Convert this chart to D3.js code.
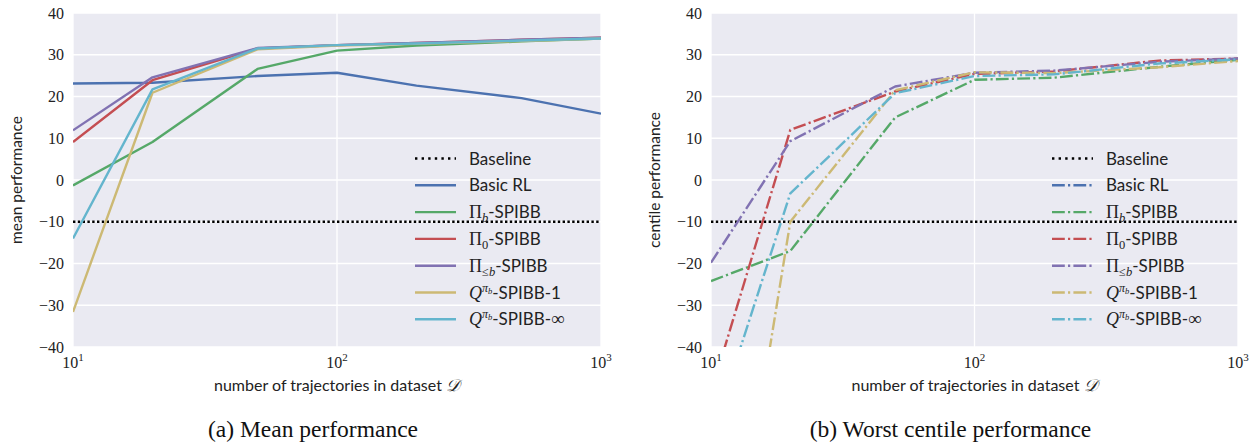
<!DOCTYPE html>
<html><head><meta charset="utf-8">
<script src="https://cdn.jsdelivr.net/npm/d3@7"></script>
<style>
body{margin:0;background:#fff;}
svg{display:block;}
</style></head>
<body>
<svg id="chart" width="1254" height="444"></svg>
<script>
// ---- data ----
const xs = [10, 20, 50, 100, 200, 500, 1000];
const baselineValue = -10;
const seriesNames = ["Basic RL", "Pib", "Pi0", "Pileb", "Q1", "Qinf"];
const meanBasicRL = [23.1, 23.3, 24.9, 25.7, 22.6, 19.6, 15.9];
const meanPib     = [-1.3, 9.1, 26.6, 31.0, 32.2, 33.2, 33.9];
const meanPi0     = [9.1, 23.9, 31.5, 32.3, 32.8, 33.6, 34.1];
const meanPileb   = [11.9, 24.6, 31.6, 32.3, 32.8, 33.6, 34.1];
const meanQ1      = [-31.6, 20.9, 31.3, 32.2, 32.6, 33.3, 33.9];
const meanQinf    = [-14.0, 21.7, 31.5, 32.3, 32.7, 33.4, 33.9];
const centBasicRL = [-90, -85, -80, -75, -72, -70, -72];
const centPib     = [-24.2, -17.0, 15.0, 24.0, 24.5, 27.1, 28.8];
const centPi0     = [-51, 12.0, 21.2, 25.4, 26.0, 28.6, 29.1];
const centPileb   = [-19.8, 9.3, 22.4, 25.7, 26.2, 28.3, 29.1];
const centQ1      = [-127, -10.0, 21.5, 25.8, 25.6, 27.0, 28.5];
const centQinf    = [-62, -3.2, 20.8, 24.9, 25.3, 27.9, 28.9];
const yTicks = [-40, -30, -20, -10, 0, 10, 20, 30, 40];
const xTicks = [10, 100, 1000];
const xTickExp = ["1", "2", "3"];
const colors = ["#4C72B0", "#55A868", "#C44E52", "#8172B2", "#CCB974", "#64B5CD"];

const svg = d3.select("#chart");
const H = {top: 13, bottom: 347};
const sans = "Lato, Open Sans, sans-serif";
const serif = "Liberation Serif, DejaVu Serif, serif";

function legendLabel(sel, i) {
  if (i === 0) { sel.append("tspan").text("Basic RL"); return; }
  if (i <= 3) {
    sel.append("tspan").attr("font-family", serif).attr("font-size", 18).text("Π");
    const t = sel.append("tspan").attr("font-family", serif).attr("font-size", 12.5).attr("dy", 4);
    if (i === 2) t.text("0");
    else if (i === 1) t.attr("font-style", "italic").text("b");
    else { t.text("≤"); sel.append("tspan").attr("font-family", serif).attr("font-size", 12.5).attr("font-style","italic").text("b"); }
    sel.append("tspan").attr("dy", -4).text("-SPIBB");
    return;
  }
  sel.append("tspan").attr("font-family", serif).attr("font-style", "italic").attr("font-size", 18).text("Q");
  sel.append("tspan").attr("font-family", serif).attr("font-style", "italic").attr("font-size", 12).attr("dy", -7).text("π");
  sel.append("tspan").attr("font-family", serif).attr("font-style", "italic").attr("font-size", 8.5).attr("dy", 2).text("b");
  if (i === 4) sel.append("tspan").attr("dy", 5).text("-SPIBB-1");
  else {
    sel.append("tspan").attr("dy", 5).text("-SPIBB-");
    sel.append("tspan").attr("font-family", serif).attr("font-size", 19).text("∞");
  }
}

function panel(id, x0, x1, ylabel, caption, data, dash) {
  const x = d3.scaleLog().domain([10, 1000]).range([x0, x1]);
  const y = d3.scaleLinear().domain([-40, 40]).range([H.bottom, H.top]);
  const g = svg.append("g");
  g.append("defs").append("clipPath").attr("id", "clip" + id)
    .append("rect").attr("x", x0).attr("y", H.top).attr("width", x1 - x0).attr("height", H.bottom - H.top);
  g.append("rect").attr("x", x0).attr("y", H.top).attr("width", x1 - x0).attr("height", H.bottom - H.top).attr("fill", "#EAEAF2");
  // grid
  g.append("g").selectAll("line").data(yTicks).join("line")
    .attr("x1", x0).attr("x2", x1).attr("y1", d => y(d)).attr("y2", d => y(d))
    .attr("stroke", "#fff").attr("stroke-width", 1.3);
  g.append("g").selectAll("line").data(xTicks).join("line")
    .attr("y1", H.top).attr("y2", H.bottom).attr("x1", d => x(d)).attr("x2", d => x(d))
    .attr("stroke", "#fff").attr("stroke-width", 1.3);
  // y tick labels
  g.append("g").selectAll("text").data(yTicks).join("text")
    .attr("x", x0 - 9).attr("y", d => y(d)).attr("dy", "0.35em").attr("text-anchor", "end")
    .attr("font-family", serif).attr("font-size", 16).attr("fill", "#222")
    .text(d => d < 0 ? "−" + Math.abs(d) : d);
  // x tick labels
  const xt = g.append("g").selectAll("text").data(xTicks).join("text")
    .attr("x", d => x(d)).attr("y", 368).attr("text-anchor", "middle")
    .attr("font-family", serif).attr("font-size", 16).attr("fill", "#222");
  xt.append("tspan").text("10");
  xt.append("tspan").attr("font-size", 11).attr("dy", -7).text((d, i) => xTickExp[i]);
  // axis labels
  const xl = g.append("text").attr("x", (x0 + x1) / 2).attr("y", 391).attr("text-anchor", "middle")
    .attr("font-family", sans).attr("font-size", 16).attr("fill", "#222");
  xl.append("tspan").text("number of trajectories in dataset ");
  xl.append("tspan").attr("font-family", serif).attr("font-style", "italic").attr("font-size", 17).text("𝒟");
  g.append("text").attr("transform", `translate(${x0 - 51},${(H.top + H.bottom) / 2}) rotate(-90)`)
    .attr("text-anchor", "middle").attr("font-family", sans).attr("font-size", 15.5).attr("fill", "#222")
    .text(ylabel);
  g.append("text").attr("x", (x0 + x1) / 2 - 24).attr("y", 437).attr("text-anchor", "middle")
    .attr("font-family", "Liberation Serif, Times New Roman, serif").attr("font-size", 23.5).attr("fill", "#111")
    .text(caption);
  // lines
  const plot = g.append("g").attr("clip-path", `url(#clip${id})`);
  plot.append("line").attr("x1", x0).attr("x2", x1).attr("y1", y(baselineValue)).attr("y2", y(baselineValue))
    .attr("stroke", "#000").attr("stroke-width", 2.4).attr("stroke-dasharray", "2.4,2.4");
  const line = d3.line().x((d, i) => x(xs[i])).y(d => y(d));
  data.forEach((vals, k) => {
    plot.append("path").attr("d", line(vals)).attr("fill", "none").attr("stroke", colors[k])
      .attr("stroke-width", 2.4).attr("stroke-dasharray", dash ? "12.8,3.2,2.2,3.2" : null)
      .attr("stroke-linejoin", "round");
  });
  // legend
  const lx = x1 - 186, tx = x1 - 132;
  const ly0 = 158.5, dy = 26.8;
  const leg = g.append("g");
  leg.append("line").attr("x1", lx).attr("x2", lx + 41).attr("y1", ly0).attr("y2", ly0)
    .attr("stroke", "#000").attr("stroke-width", 2.4).attr("stroke-dasharray", "2.4,4.2");
  leg.append("text").attr("x", tx).attr("y", ly0).attr("dy", "0.36em")
    .attr("font-family", sans).attr("font-size", 17).attr("fill", "#222").text("Baseline");
  colors.forEach((c, k) => {
    const yy = ly0 + dy * (k + 1);
    leg.append("line").attr("x1", lx).attr("x2", lx + 41).attr("y1", yy).attr("y2", yy)
      .attr("stroke", c).attr("stroke-width", 2.4).attr("stroke-dasharray", dash ? "12.8,3.2,2.2,3.2" : null);
    const t = leg.append("text").attr("x", tx).attr("y", yy).attr("dy", "0.36em")
      .attr("font-family", sans).attr("font-size", 17).attr("fill", "#222");
    legendLabel(t, k);
  });
}

panel("a", 73, 601, "mean performance", "(a) Mean performance",
  [meanBasicRL, meanPib, meanPi0, meanPileb, meanQ1, meanQinf], false);
panel("b", 711, 1238, "centile performance", "(b) Worst centile performance",
  [centBasicRL, centPib, centPi0, centPileb, centQ1, centQinf], true);
</script>
</body></html>
